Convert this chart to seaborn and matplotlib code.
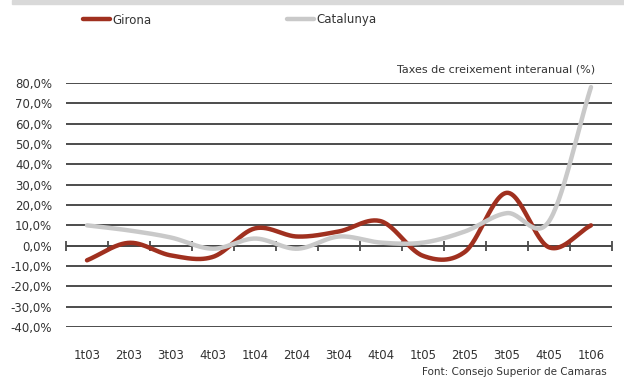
import numpy as np
import pandas as pd
import seaborn as sns
import matplotlib.pyplot as plt
from matplotlib.lines import Line2D

# data
quarters = ["1t03", "2t03", "3t03", "4t03", "1t04", "2t04", "3t04",
            "4t04", "1t05", "2t05", "3t05", "4t05", "1t06"]
girona = [-7.2, 1.4, -4.8, -5.5, 8.5, 4.5, 7.0, 12.0, -5.0, -3.0, 26.0, -0.8, 10.0]
catalunya = [10.0, 7.5, 4.0, -1.5, 3.5, -1.5, 4.5, 1.5, 1.5, 7.0, 16.0, 12.0, 78.0]
yticks = list(range(-40, 90, 10))

RED = "#a0301f"
GREY = "#c9c9c9"


def smooth(vals, n=30):
    # catmull-rom curve through the points, like the smoothed excel lines
    p = np.asarray(vals, float)
    x = np.arange(len(p), dtype=float)
    pp = np.concatenate([[2 * p[0] - p[1]], p, [2 * p[-1] - p[-2]]])
    xs, ys = [], []
    for i in range(len(p) - 1):
        p0, p1, p2, p3 = pp[i], pp[i + 1], pp[i + 2], pp[i + 3]
        t = np.linspace(0, 1, n, endpoint=False)
        y = 0.5 * ((2 * p1) + (-p0 + p2) * t + (2 * p0 - 5 * p1 + 4 * p2 - p3) * t ** 2
                   + (-p0 + 3 * p1 - 3 * p2 + p3) * t ** 3)
        xs.append(x[i] + t)
        ys.append(y)
    xs.append([x[-1]])
    ys.append([p[-1]])
    return np.concatenate(xs), np.concatenate(ys)


sns.set_style("white")
plt.rcParams["font.family"] = ["DejaVu Sans"]

fig = plt.figure(figsize=(6.24, 3.81), dpi=100)
ax = fig.add_axes([66 / 624, 54 / 381, 546 / 624, 244 / 381])

frames = []
for name, vals in [("Girona", girona), ("Catalunya", catalunya)]:
    xs, ys = smooth(vals)
    frames.append(pd.DataFrame({"x": xs, "y": ys, "serie": name}))
df = pd.concat(frames, ignore_index=True)

sns.lineplot(data=df, x="x", y="y", hue="serie", sort=False, estimator=None,
             palette={"Girona": RED, "Catalunya": GREY}, linewidth=3.2,
             legend=False, ax=ax, zorder=3)
# grey line drawn over red like the reference
ax.lines[1].set_zorder(4)

ax.set_xlim(-0.5, len(quarters) - 0.5)
ax.set_ylim(-40, 80)
ax.set_yticks(yticks)
ax.set_yticklabels([f"{v},0%" for v in yticks], fontsize=8.5, color="#333333")
ax.set_xticks(range(len(quarters)))
ax.set_xticklabels(quarters, fontsize=8.5, color="#333333")
ax.tick_params(axis="both", length=0)
ax.tick_params(axis="x", pad=16)
ax.tick_params(axis="y", pad=10)
ax.set_xlabel("")
ax.set_ylabel("")
for s in ax.spines.values():
    s.set_visible(False)
ax.yaxis.grid(True, color="#2e2e2e", linewidth=1.2)
ax.xaxis.grid(False)

# zero axis with category boundary ticks
bounds = np.arange(len(quarters) + 1) - 0.5
ax.axhline(0, color="#4a4a4a", linewidth=1.4, zorder=2)
ax.plot(bounds, np.zeros_like(bounds), linestyle="none", marker="|",
        markersize=7, markeredgewidth=1.3, color="#4a4a4a", zorder=2,
        clip_on=False)

ax.text(0.97, 1.035, "Taxes de creixement interanual (%)", transform=ax.transAxes,
        ha="right", va="bottom", fontsize=8, color="#333333",
        family=["Liberation Sans Narrow", "DejaVu Sans"])

fig.text(607 / 624, 9 / 381, "Font: Consejo Superior de Camaras", ha="right",
         va="center", fontsize=7.5, color="#333333")

# top grey band
fig.patches.append(plt.Rectangle((12 / 624, 1 - 4 / 381), 1, 4 / 381,
                                 transform=fig.transFigure, color="#d9d9d9"))

handles = [Line2D([], [], color=RED, linewidth=3.2, solid_capstyle="round"),
           Line2D([], [], color=GREY, linewidth=3.2, solid_capstyle="round")]
fig.legend(handles, ["Girona", "Catalunya"], loc="center left",
           bbox_to_anchor=(72 / 624, 1 - 20 / 381), ncol=2, frameon=False,
           fontsize=8.5, handlelength=2.3, handletextpad=0.2,
           columnspacing=11.5, labelcolor="#333333")

fig.savefig("out.png", dpi=100)
